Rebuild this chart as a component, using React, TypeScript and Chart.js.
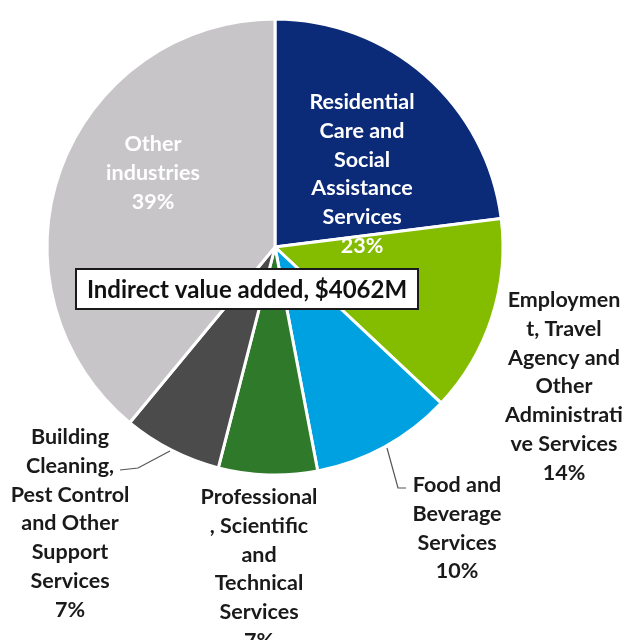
import React, { useEffect, useRef } from "react";
import { Chart, registerables } from "chart.js";

Chart.register(...registerables);

const categories = [
  "Residential Care and Social Assistance Services",
  "Employment, Travel Agency and Other Administrative Services",
  "Food and Beverage Services",
  "Professional, Scientific and Technical Services",
  "Building Cleaning, Pest Control and Other Support Services",
  "Other industries",
];
const shares = [23, 14, 10, 7, 7, 39];
const colors = ["#0b2a78", "#84bd00", "#00a1e0", "#2e7a2a", "#4b4b4b", "#c7c5c8"];
const centerTitle = "Indirect value added, $4062M";

// label text lines as drawn in the reference
const labelLines = [
  ["Residential", "Care and", "Social", "Assistance", "Services", "23%"],
  ["Employmen", "t, Travel", "Agency and", "Other", "Administrati", "ve Services", "14%"],
  ["Food and", "Beverage", "Services", "10%"],
  ["Professional", ", Scientific", "and", "Technical", "Services", "7%"],
  ["Building", "Cleaning,", "Pest Control", "and Other", "Support", "Services", "7%"],
  ["Other", "industries", "39%"],
];
const labelColors = ["#ffffff", "#1a1a1a", "#1a1a1a", "#1a1a1a", "#1a1a1a", "#ffffff"];
// label block anchor (center x, first line y) relative to pie centre
const labelAnchors = [
  [87, -145],
  [289, 53],
  [182, 238],
  [-16, 250],
  [-205, 190],
  [-122, -103],
];
// leader lines relative to pie centre
const leaders: number[][][] = [
  [],
  [],
  [[112, 201], [123, 241], [131, 241]],
  [],
  [[-105, 204], [-137, 221], [-155, 223]],
  [],
];

const FONT = "Lato, 'Open Sans', sans-serif";

const labelPlugin = {
  id: "pieLabels",
  afterDraw(chart: any) {
    const ctx = chart.ctx as CanvasRenderingContext2D;
    const arc = chart.getDatasetMeta(0).data[0];
    if (!arc) return;
    const cx = arc.x;
    const cy = arc.y;
    ctx.save();
    // leaders
    ctx.strokeStyle = "#555555";
    ctx.lineWidth = 1.2;
    leaders.forEach((pts) => {
      if (!pts.length) return;
      ctx.beginPath();
      pts.forEach((p, i) => {
        if (i === 0) ctx.moveTo(cx + p[0], cy + p[1]);
        else ctx.lineTo(cx + p[0], cy + p[1]);
      });
      ctx.stroke();
    });
    // labels
    ctx.font = `bold 21.5px ${FONT}`;
    ctx.textAlign = "center";
    ctx.textBaseline = "middle";
    labelLines.forEach((lines, i) => {
      ctx.fillStyle = labelColors[i];
      const [ax, ay] = labelAnchors[i];
      lines.forEach((ln, j) => {
        ctx.fillText(ln, cx + ax, cy + ay + j * 28.8);
      });
    });
    // centre box
    ctx.font = `bold 24px ${FONT}`;
    const w = 342;
    const h = 40;
    const bx = cx - 199;
    const by = cy + 22;
    ctx.fillStyle = "#ffffff";
    ctx.fillRect(bx, by, w, h);
    ctx.strokeStyle = "#1a1a1a";
    ctx.lineWidth = 2;
    ctx.strokeRect(bx, by, w, h);
    ctx.fillStyle = "#111111";
    ctx.fillText(centerTitle, bx + w / 2, by + h / 2 + 1);
    ctx.restore();
  },
};

export default function App() {
  const ref = useRef<HTMLCanvasElement | null>(null);
  useEffect(() => {
    document.body.style.margin = "0";
    if (!ref.current) return;
    const chart = new Chart(ref.current, {
      type: "pie",
      data: {
        labels: categories,
        datasets: [
          {
            data: shares,
            backgroundColor: colors,
            borderColor: "#ffffff",
            borderWidth: 3,
          },
        ],
      },
      options: {
        responsive: false,
        animation: false,
        radius: 228,
        layout: { padding: { left: 47, top: 19, right: 120, bottom: 165 } },
        plugins: {
          legend: { display: false },
          tooltip: { enabled: false },
        },
      } as any,
      plugins: [labelPlugin],
    });
    return () => chart.destroy();
  }, []);
  return (
    <div style={{ position: "absolute", left: 0, top: 0, width: 623, height: 640, background: "#fff" }}>
      <canvas ref={ref} width={623} height={640} style={{ width: 623, height: 640 }} />
    </div>
  );
}
